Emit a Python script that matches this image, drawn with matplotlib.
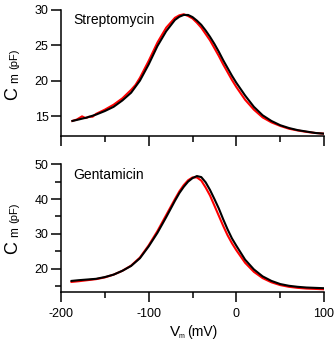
import numpy as np
import matplotlib
matplotlib.use("Agg")
import matplotlib.pyplot as plt
from matplotlib.ticker import MultipleLocator

plt.rcParams['font.family'] = ['Liberation Sans', 'DejaVu Sans']
plt.rcParams['axes.unicode_minus'] = False

# Streptomycin panel (membrane capacitance vs voltage)
strep_v_black = [-187, -180, -170, -160, -150, -140, -130, -120, -110, -100, -90, -80, -70, -65,
                 -60, -55, -50, -45, -40, -35, -30, -25, -20, -15, -10, -5, 0, 10, 20, 30, 40,
                 50, 60, 70, 80, 90, 100]
strep_c_black = [14.3, 14.5, 14.8, 15.2, 15.7, 16.3, 17.2, 18.3, 20.0, 22.3, 24.9, 27.0, 28.6, 29.05,
                 29.3, 29.3, 29.0, 28.5, 27.9, 27.1, 26.2, 25.2, 24.1, 22.9, 21.8, 20.7, 19.7, 17.9,
                 16.3, 15.1, 14.3, 13.7, 13.3, 13.0, 12.8, 12.6, 12.5]

strep_v_red = [-187, -182, -176, -172, -168, -164, -160, -150, -140, -130, -120, -115, -110, -100,
               -90, -80, -70, -65, -60, -55, -50, -45, -40, -35, -30, -25, -20, -15, -10, -5, 0,
               10, 20, 30, 40, 50, 60, 70, 80, 90, 100]
strep_c_red = [14.3, 14.5, 14.95, 14.7, 14.9, 14.9, 15.3, 15.9, 16.6, 17.5, 18.7, 19.4, 20.4, 22.8,
               25.4, 27.5, 28.9, 29.25, 29.4, 29.15, 28.8, 28.2, 27.5, 26.6, 25.7, 24.6, 23.5, 22.3,
               21.2, 20.1, 19.1, 17.3, 15.9, 14.8, 14.1, 13.6, 13.2, 12.95, 12.75, 12.6, 12.5]

# Gentamicin panel
gent_v = [-188, -180, -170, -160, -150, -140, -130, -120, -110, -100, -90, -80, -70, -65, -60,
          -55, -50, -45, -40, -35, -30, -25, -20, -15, -10, -5, 0, 10, 20, 30, 40, 50, 60, 70,
          80, 90, 100]
gent_c_black = [16.5, 16.7, 16.9, 17.1, 17.6, 18.3, 19.4, 20.8, 23.0, 26.4, 30.3, 34.8, 39.5, 41.7,
                43.5, 45.0, 46.0, 46.6, 46.3, 44.8, 42.6, 40.0, 37.3, 34.2, 31.3, 28.7, 26.6, 22.6,
                19.8, 17.8, 16.5, 15.6, 15.1, 14.8, 14.6, 14.5, 14.4]
gent_c_red = [16.2, 16.4, 16.7, 17.0, 17.5, 18.3, 19.4, 20.9, 23.2, 26.7, 30.8, 35.4, 40.0, 42.2,
              44.0, 45.4, 46.2, 46.2, 45.3, 43.3, 41.0, 38.1, 35.2, 32.3, 29.6, 27.3, 25.3, 21.7,
              19.1, 17.3, 16.1, 15.3, 14.8, 14.5, 14.3, 14.2, 14.1]

W, H = 335, 342
fig = plt.figure(figsize=(W / 100, H / 100), dpi=100)


def px_axes(x0, y0, x1, y1):
    return fig.add_axes([x0 / W, 1 - y1 / H, (x1 - x0) / W, (y1 - y0) / H])


def style(ax):
    for s in ['top', 'right']:
        ax.spines[s].set_visible(False)
    for s in ['left', 'bottom']:
        ax.spines[s].set_linewidth(1.1)
    ax.set_xlim(-200, 100)
    ax.xaxis.set_major_locator(MultipleLocator(100))
    ax.xaxis.set_minor_locator(MultipleLocator(50))
    ax.tick_params(which='major', direction='out', length=7, width=1.1, labelsize=9, pad=5)
    ax.tick_params(which='minor', direction='out', length=4, width=1.1)
    ax.tick_params(axis='y', which='major', pad=2)


ax1 = px_axes(61, 10, 324, 136)
ax1.plot(strep_v_red, strep_c_red, color='#ff0000', lw=1.5)
ax1.plot(strep_v_black, strep_c_black, color='black', lw=1.5)
style(ax1)
ax1.set_ylim(12.17, 30)
ax1.set_yticks([15, 20, 25, 30])
ax1.tick_params(axis='x', labelbottom=False)
ax1.text((73 - 61) / 263, (136 - 24) / 126, 'Streptomycin', transform=ax1.transAxes,
         fontsize=10, ha='left', va='baseline')

ax2 = px_axes(61, 164.2, 324, 291.7)
ax2.plot(gent_v, gent_c_red, color='#ff0000', lw=1.5)
ax2.plot(gent_v, gent_c_black, color='black', lw=1.5)
style(ax2)
ax2.set_ylim(13.4, 50)
ax2.yaxis.set_major_locator(MultipleLocator(10))
ax2.yaxis.set_minor_locator(MultipleLocator(5))
ax2.text((73 - 61) / 263, (291.7 - 179) / 127.5, 'Gentamicin', transform=ax2.transAxes,
         fontsize=10, ha='left', va='baseline')


# y labels: large C, subscript m, smaller (pF), reading bottom to top
def ylab(ybottom):
    kw = dict(rotation=90, ha='left', va='baseline', rotation_mode='anchor')
    fig.text(17 / W, 1 - ybottom / H, 'C', fontsize=13, **kw)
    fig.text(18.5 / W, 1 - (ybottom - 17) / H, 'm', fontsize=8.5, **kw)
    fig.text(17 / W, 1 - (ybottom - 31) / H, '(pF)', fontsize=8, **kw)


ylab(100)
ylab(254)

# x label: V, tiny m, (mV)
fig.text(170 / W, 1 - 336 / H, 'V', fontsize=11, ha='left', va='baseline')
fig.text(179 / W, 1 - 338 / H, 'm', fontsize=5, ha='left', va='baseline')
fig.text(187 / W, 1 - 336 / H, '(mV)', fontsize=10, ha='left', va='baseline')

fig.savefig('out.png', dpi=100)
